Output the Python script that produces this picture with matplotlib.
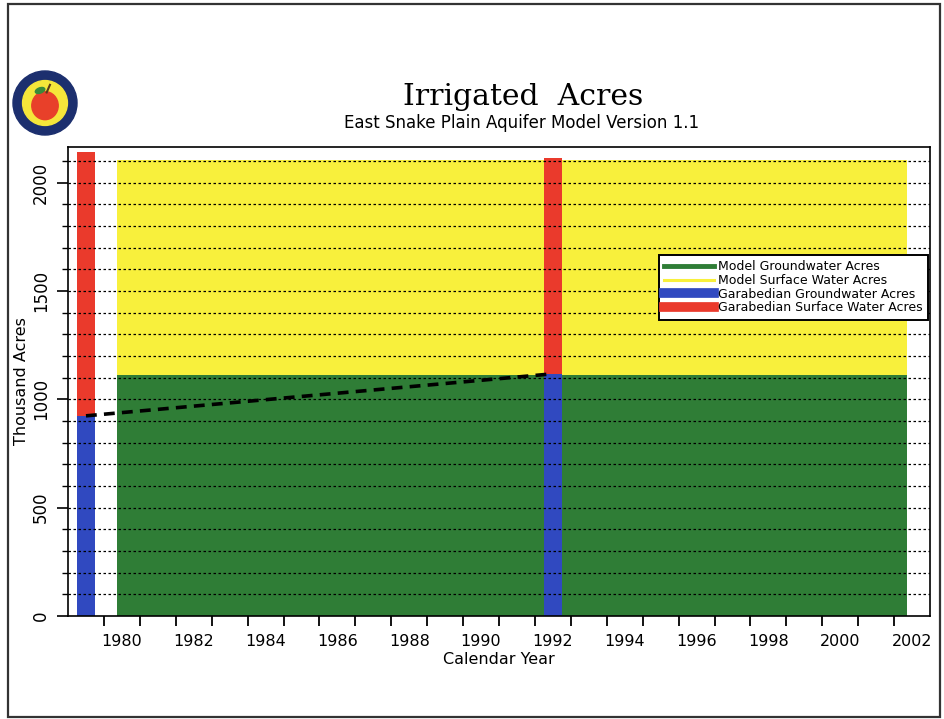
import matplotlib
matplotlib.use("Agg")
import matplotlib.pyplot as plt
from matplotlib.lines import Line2D
from matplotlib.patches import Rectangle, Circle, Ellipse
import numpy as np

# ---------------- data (thousand acres) ----------------
model_years = list(range(1980, 2002))
model_gw = [1113] * len(model_years)
model_sw = [992] * len(model_years)

garabedian_years = [1979, 1992]
garabedian_gw = [924, 1118]
garabedian_sw = [1219, 997]

legend_labels = ["Model Groundwater Acres", "Model Surface Water Acres",
                 "Garabedian Groundwater Acres", "Garabedian Surface Water Acres"]
x_tick_labels = [str(y) for y in range(1980, 2003, 2)]
y_ticks = [0, 500, 1000, 1500, 2000]

# ---------------- style ----------------
C_GREEN = "#2f7d36"
C_YELLOW = "#f8f03c"
C_BLUE = "#3049c0"
C_RED = "#ea3a2c"
FONT = "DejaVu Sans"

fig = plt.figure(figsize=(9.44, 7.19), dpi=100)
fig.patch.set_facecolor("white")

# outer frame
fig.add_artist(Rectangle((8 / 944, 2 / 719), 932 / 944, 713 / 719, transform=fig.transFigure,
                         fill=False, edgecolor="#333333", lw=1.6))

ax = fig.add_axes([68 / 944, 103 / 719, 862 / 944, 469 / 719])

# model stacked bars
mx = np.array(model_years) - 0.14
ax.bar(mx, model_gw, width=1.0, align="edge", color=C_GREEN, linewidth=0, zorder=1)
ax.bar(mx, model_sw, bottom=model_gw, width=1.0, align="edge", color=C_YELLOW,
       linewidth=0, zorder=1)

# Garabedian stacked bars
ax.bar(garabedian_years, garabedian_gw, width=0.5, color=C_BLUE, linewidth=0, zorder=2)
ax.bar(garabedian_years, garabedian_sw, bottom=garabedian_gw, width=0.5, color=C_RED,
       linewidth=0, zorder=2)

# dashed line between Garabedian groundwater estimates
ax.plot(garabedian_years, garabedian_gw, color="black", lw=2.6, ls=(0, (3, 2)), zorder=4)

# gridlines every 100
for yv in range(100, 2200, 100):
    ax.axhline(yv, color="black", lw=0.9, ls=(0, (2, 2)), zorder=3)

ax.set_xlim(1978.5, 2002.5)
ax.set_ylim(0, 2165)

ax.set_xticks(range(1980, 2003, 2))
ax.set_xticklabels(x_tick_labels, fontsize=11.5, family=FONT)
ax.set_xticks(np.arange(1979.5, 2002, 1.0), minor=True)
ax.tick_params(axis="x", which="major", length=0, pad=13)
ax.tick_params(axis="x", which="minor", length=7, width=1.3, direction="out")

ax.set_yticks(y_ticks)
ax.set_yticklabels([str(v) for v in y_ticks], fontsize=12, family=FONT,
                   rotation=90, va="center")
ax.set_yticks(range(100, 2200, 100), minor=True)
ax.tick_params(axis="y", which="major", length=8, width=1.2, direction="out", pad=5)
ax.tick_params(axis="y", which="minor", length=4.5, width=1.0, direction="out")

for s in ax.spines.values():
    s.set_linewidth(1.2)
    s.set_color("black")

ax.set_xlabel("Calendar Year", fontsize=11.5, family=FONT, labelpad=2)
ax.set_ylabel("Thousand Acres", fontsize=11.5, family=FONT)
ax.yaxis.set_label_coords(-0.045, 0.5)

handles = [Line2D([0], [0], color=C_GREEN, lw=3.5),
           Line2D([0], [0], color=C_YELLOW, lw=2.2),
           Line2D([0], [0], color=C_BLUE, lw=7),
           Line2D([0], [0], color=C_RED, lw=7)]
leg = ax.legend(handles, legend_labels, loc="upper right", bbox_to_anchor=(0.998, 0.77),
                borderaxespad=0, handlelength=4.0, handletextpad=0.3,
                labelspacing=0.05, borderpad=0.45, fancybox=False, framealpha=1,
                edgecolor="black", prop={"family": FONT, "size": 9})
leg.get_frame().set_linewidth(1.4)

# titles
fig.text(523 / 944, 1 - 97 / 719, "Irrigated  Acres", ha="center", va="center",
         fontsize=21.5, family="DejaVu Serif")
fig.text(522 / 944, 1 - 123 / 719, "East Snake Plain Aquifer Model Version 1.1",
         ha="center", va="center", fontsize=12, family=FONT)

# logo
lax = fig.add_axes([(45 - 33) / 944, 1 - (103 + 33) / 719, 66 / 944, 66 / 719])
lax.set_xlim(-1, 1)
lax.set_ylim(-1, 1)
lax.set_aspect("equal")
lax.axis("off")
lax.add_patch(Circle((0, 0), 0.97, color="#1c2f6e"))
lax.add_patch(Circle((0, 0), 0.68, color="#f5e63a"))
lax.add_patch(Ellipse((0, -0.08), 0.8, 0.85, color="#e8402a"))
lax.add_patch(Ellipse((-0.15, 0.38), 0.3, 0.16, angle=20, color="#3a8a3a"))
lax.plot([0.05, 0.15], [0.32, 0.55], color="#5a3a1a", lw=1.5)

fig.savefig("out.png", dpi=100)
